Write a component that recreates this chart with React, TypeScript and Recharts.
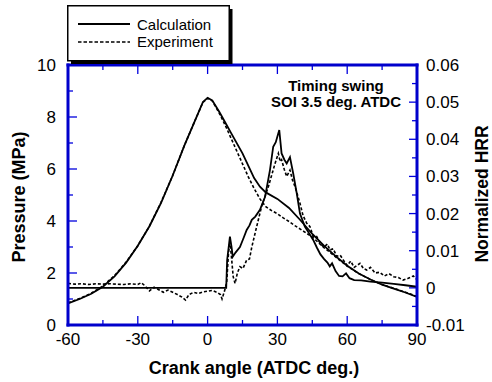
import React from 'react';
import { ComposedChart, Line, XAxis, YAxis, Legend } from 'recharts';

// ---------- data ----------
const calcPressureAngle = [-60, -55, -50, -45, -40, -35, -30, -25, -20, -15, -10, -5, -2, 0, 2, 5, 8, 10, 15, 20, 22.5, 25, 30, 35, 40, 45, 50, 55, 60, 65, 70, 75, 80, 85, 90];
const calcPressureValue = [0.83, 1.0, 1.2, 1.47, 1.87, 2.4, 3.05, 3.8, 4.7, 5.75, 6.9, 7.95, 8.58, 8.74, 8.64, 8.2, 7.72, 7.4, 6.6, 5.65, 5.32, 5.1, 4.85, 4.5, 4.02, 3.5, 3.05, 2.65, 2.28, 1.98, 1.75, 1.55, 1.4, 1.25, 1.08];

const expPressureAngle = [-60, -55, -50, -45, -40, -35, -30, -25, -20, -15, -10, -5, -2, 0, 2, 5, 8, 10, 12.5, 15, 17.5, 20, 22.5, 25, 27.5, 30, 32.5, 35, 37.5, 40, 42.5, 45, 47.5, 50, 52.5, 55, 57.5, 60, 62.5, 65, 67.5, 70, 72.5, 75, 77.5, 80, 82.5, 85, 87.5, 90];
const expPressureValue = [0.85, 1.02, 1.22, 1.5, 1.9, 2.42, 3.05, 3.8, 4.72, 5.75, 6.9, 7.95, 8.56, 8.72, 8.62, 8.15, 7.6, 7.2, 6.7, 6.2, 5.7, 5.25, 4.85, 4.55, 4.4, 4.28, 4.12, 3.98, 3.82, 3.68, 3.53, 3.38, 3.18, 2.98, 2.8, 2.62, 2.44, 2.27, 2.12, 1.98, 1.86, 1.75, 1.65, 1.56, 1.48, 1.41, 1.34, 1.26, 1.18, 1.1];

const calcHrrAngle = [-60, 8, 8.4, 9.6, 10.3, 10.8, 12, 13.9, 15.5, 16.8, 18, 19, 20.5, 22.5, 24.7, 26.8, 28.2, 29.3, 30.8, 31.8, 33, 34, 35.4, 36.8, 38.3, 39.7, 41.8, 43.5, 45.4, 47, 48.5, 50, 51.5, 52.5, 53.5, 55, 56.5, 58, 59.5, 61, 63, 66, 70, 75, 80, 85, 90];
const calcHrrValue = [0, 0, 0.0075, 0.0138, 0.011, 0.0084, 0.0095, 0.011, 0.0135, 0.0156, 0.0168, 0.0183, 0.0192, 0.021, 0.0245, 0.0317, 0.038, 0.0392, 0.0425, 0.0362, 0.0345, 0.0335, 0.0352, 0.0308, 0.0255, 0.02, 0.0165, 0.0148, 0.0129, 0.0108, 0.009, 0.0078, 0.0068, 0.0058, 0.0066, 0.0045, 0.0032, 0.0031, 0.0039, 0.0026, 0.0021, 0.002, 0.0017, 0.0014, 0.0011, 0.0007, 0.0003];

const expHrrAngle = [-60, -57, -54, -51, -48, -45, -42, -39, -36, -33, -30, -28.5, -27, -25, -23, -21, -19, -17, -15, -13, -11, -9.5, -8, -6, -4, -2, 0, 2, 4, 5.5, 6.2, 7.3, 8.2, 9, 9.6, 10.3, 11, 11.8, 12.8, 13.9, 15.2, 16.8, 18, 19, 21.1, 23.2, 26.1, 29, 30.4, 31.2, 31.8, 33, 34, 35.4, 36.5, 37.6, 39.7, 41, 42.6, 44, 45.4, 46.9, 48.5, 50, 51.5, 52.6, 54, 55.5, 57, 58.3, 60, 61.5, 63, 65.5, 67, 68.4, 70, 72, 74, 76, 78, 80, 82, 84, 86, 88.4, 90];
const expHrrValue = [0.0012, 0.001, 0.0011, 0.0009, 0.0011, 0.001, 0.0011, 0.001, 0.0009, 0.0011, 0.0009, 0.0014, 0.0006, -0.0008, 0.0002, -0.0005, -0.0012, -0.0006, -0.0012, -0.0018, -0.0025, -0.0033, -0.0018, -0.0012, -0.0015, -0.0011, -0.0009, -0.0007, -0.0012, -0.0018, -0.003, -0.0008, 0.0015, 0.0095, 0.0125, 0.008, 0.003, 0.0012, 0.004, 0.0057, 0.0052, 0.0075, 0.0078, 0.011, 0.0165, 0.0219, 0.0272, 0.0335, 0.0362, 0.034, 0.0345, 0.0318, 0.03, 0.0317, 0.029, 0.0272, 0.0228, 0.0195, 0.0174, 0.0165, 0.0138, 0.0138, 0.0118, 0.011, 0.0118, 0.0102, 0.0105, 0.0085, 0.0088, 0.0075, 0.006, 0.0072, 0.0055, 0.0066, 0.0052, 0.0048, 0.0055, 0.004, 0.0042, 0.0032, 0.0038, 0.003, 0.0028, 0.0021, 0.0025, 0.0032, 0.0022];

const angleTicks = [-60, -45, -30, -15, 0, 15, 30, 45, 60, 75, 90];
const angleLabels = [-60, -30, 0, 30, 60, 90];
const pressureTicks = [0, 1, 2, 3, 4, 5, 6, 7, 8, 9, 10];
const pressureLabels = [0, 2, 4, 6, 8, 10];
const hrrTicks = [-0.01, -0.005, 0, 0.005, 0.01, 0.015, 0.02, 0.025, 0.03, 0.035, 0.04, 0.045, 0.05, 0.055, 0.06];
const hrrLabels = [-0.01, 0, 0.01, 0.02, 0.03, 0.04, 0.05, 0.06];

const seriesNames = ['Calculation', 'Experiment'];
const axisTitles = { x: 'Crank angle (ATDC deg.)', left: 'Pressure (MPa)', right: 'Normalized HRR' };
const noteLines = ['Timing swing', 'SOI 3.5 deg. ATDC'];

const zip = (a: number[], v: number[]) => a.map((x, i) => ({ a: x, v: v[i] }));
const calcPressure = zip(calcPressureAngle, calcPressureValue);
const expPressure = zip(expPressureAngle, expPressureValue);
const calcHrr = zip(calcHrrAngle, calcHrrValue);
const expHrr = zip(expHrrAngle, expHrrValue);

// ---------- layout / style ----------
const W = 492, H = 382;
const MARGIN = { top: 60, right: 30, bottom: 27, left: 28 };
const LEFT_W = 40, RIGHT_W = 45, BOTTOM_H = 30, TOP_H = 5;
const PLOT = {
  left: MARGIN.left + LEFT_W,
  right: W - MARGIN.right - RIGHT_W,
  top: MARGIN.top + TOP_H,
  bottom: H - MARGIN.bottom - BOTTOM_H,
};
const X_DOMAIN = [angleTicks[0], angleTicks[angleTicks.length - 1]];
const P_DOMAIN = [pressureTicks[0], pressureTicks[pressureTicks.length - 1]];
const H_DOMAIN = [hrrTicks[0], hrrTicks[hrrTicks.length - 1]];

const BLUE = '#0000cc';
const TICK_BLUE = '#0000dd';
const FONT = '"Liberation Sans", Arial, Helvetica, sans-serif';
const DASH = '3 2';
const TICK_LEN = 6;
const MAJ = 9, MIN = 5;
const axisLineStyle = { stroke: BLUE, strokeWidth: 3, strokeLinecap: 'square' as const };

const lin = (d: number[], r0: number, r1: number) => (v: number) => r0 + ((v - d[0]) / (d[1] - d[0])) * (r1 - r0);
const sx = lin(X_DOMAIN, PLOT.left, PLOT.right);
const sp = lin(P_DOMAIN, PLOT.bottom, PLOT.top);
const sh = lin(H_DOMAIN, PLOT.bottom, PLOT.top);

function TickMarks() {
  const lines: React.ReactNode[] = [];
  angleTicks.forEach((t) => {
    const len = angleLabels.includes(t) ? MAJ : MIN;
    const x = sx(t);
    lines.push(<line key={`b${t}`} x1={x} y1={PLOT.bottom} x2={x} y2={PLOT.bottom - len} />);
    lines.push(<line key={`t${t}`} x1={x} y1={PLOT.top} x2={x} y2={PLOT.top + len} />);
  });
  pressureTicks.forEach((t) => {
    const len = pressureLabels.includes(t) ? MAJ : MIN;
    const y = sp(t);
    lines.push(<line key={`l${t}`} x1={PLOT.left} y1={y} x2={PLOT.left + len} y2={y} />);
  });
  hrrTicks.forEach((t) => {
    const len = hrrLabels.includes(t) ? MAJ - 1 : MIN;
    const y = sh(t);
    lines.push(<line key={`r${t}`} x1={PLOT.right} y1={y} x2={PLOT.right - len} y2={y} />);
  });
  return (
    <g className="tick-marks" stroke={TICK_BLUE} strokeWidth={1.3} fill="none">
      {lines}
    </g>
  );
}

function BottomTick(props: any) {
  const x = Number(props.x);
  const y = Number(props.y);
  const v = props.payload.value;
  if (!angleLabels.includes(v)) return <g />;
  return <text x={x} y={y + TICK_LEN + 20} textAnchor="middle" fontSize={17} fontFamily={FONT} fill="#000">{v}</text>;
}

function LeftTick(props: any) {
  const x = Number(props.x);
  const y = Number(props.y);
  const v = props.payload.value;
  if (!pressureLabels.includes(v)) return <g />;
  return <text x={x - TICK_LEN - 12} y={y + 6} textAnchor="end" fontSize={17} fontFamily={FONT} fill="#000">{v}</text>;
}

function RightTick(props: any) {
  const x = Number(props.x);
  const y = Number(props.y);
  const v = props.payload.value;
  if (!hrrLabels.includes(v)) return <g />;
  return (
    <text x={x + TICK_LEN + 9} y={y + 6} textAnchor="start" fontSize={17} fontFamily={FONT} fill="#000">
      {v === 0 ? '0' : v.toFixed(2)}
    </text>
  );
}

function LegendBox() {
  return (
    <svg width={168} height={62} style={{ display: 'block' }}>
      <rect x={4} y={4} width={161.5} height={55} fill="#000" />
      <rect x={0.75} y={0.75} width={161.5} height={55} fill="#fff" stroke="#000" strokeWidth={1.5} />
      <line x1={11} y1={19} x2={63} y2={19} stroke="#000" strokeWidth={2.2} />
      <text x={70} y={24.5} fontSize={15} fontFamily={FONT} fill="#000">{seriesNames[0]}</text>
      <line x1={11} y1={37} x2={63} y2={37} stroke="#000" strokeWidth={1.5} strokeDasharray="3.5 2" />
      <text x={70} y={42} fontSize={15} fontFamily={FONT} fill="#000">{seriesNames[1]}</text>
    </svg>
  );
}

export default function App() {
  return (
    <div style={{ position: 'absolute', left: 0, top: 0, width: W, height: H, background: '#fff' }}>
      <ComposedChart width={W} height={H} margin={MARGIN}>
        <XAxis
          dataKey="a"
          type="number"
          domain={X_DOMAIN}
          ticks={angleTicks}
          interval={0}
          allowDataOverflow
          axisLine={axisLineStyle}
          tickLine={false}
          tickSize={-TICK_LEN}
          tickMargin={0}
          height={BOTTOM_H}
          tick={(p: any) => <BottomTick {...p} />}
        />
        <XAxis
          xAxisId="top"
          orientation="top"
          dataKey="a"
          type="number"
          domain={X_DOMAIN}
          ticks={angleTicks}
          interval={0}
          allowDataOverflow
          axisLine={axisLineStyle}
          tickLine={false}
          tick={false}
          height={TOP_H}
        />
        <YAxis
          yAxisId="p"
          type="number"
          domain={P_DOMAIN}
          ticks={pressureTicks}
          interval={0}
          allowDataOverflow
          axisLine={axisLineStyle}
          tickLine={false}
          tickSize={-TICK_LEN}
          tickMargin={0}
          width={LEFT_W}
          tick={(p: any) => <LeftTick {...p} />}
        />
        <YAxis
          yAxisId="h"
          orientation="right"
          type="number"
          domain={H_DOMAIN}
          ticks={hrrTicks}
          interval={0}
          allowDataOverflow
          axisLine={axisLineStyle}
          tickLine={false}
          tickSize={-TICK_LEN}
          tickMargin={0}
          width={RIGHT_W}
          tick={(p: any) => <RightTick {...p} />}
        />
        <Legend
          layout="vertical"
          align="center"
          verticalAlign="middle"
          wrapperStyle={{ left: 67, top: 5, width: 168, height: 62 }}
          content={() => <LegendBox />}
        />
        <Line yAxisId="p" data={calcPressure} dataKey="v" name={seriesNames[0]} type="linear" stroke="#000" strokeWidth={1.8} dot={false} isAnimationActive={false} />
        <Line yAxisId="p" data={expPressure} dataKey="v" name={seriesNames[1]} type="linear" stroke="#000" strokeWidth={1.6} strokeDasharray={DASH} dot={false} isAnimationActive={false} />
        <Line yAxisId="h" data={calcHrr} dataKey="v" name={seriesNames[0] + ' HRR'} type="linear" stroke="#000" strokeWidth={1.8} dot={false} isAnimationActive={false} />
        <Line yAxisId="h" data={expHrr} dataKey="v" name={seriesNames[1] + ' HRR'} type="linear" stroke="#000" strokeWidth={1.6} strokeDasharray={DASH} dot={false} isAnimationActive={false} />
        <TickMarks />
        <text x={336} y={91} textAnchor="middle" fontSize={15} fontWeight="bold" fontFamily={FONT} fill="#000">{noteLines[0]}</text>
        <text x={336} y={107} textAnchor="middle" fontSize={15} fontWeight="bold" fontFamily={FONT} fill="#000">{noteLines[1]}</text>
        <text x={254} y={374} textAnchor="middle" fontSize={18} fontWeight="bold" fontFamily={FONT} fill="#000">{axisTitles.x}</text>
        <text transform="translate(25,197) rotate(-90)" textAnchor="middle" fontSize={18} fontWeight="bold" fontFamily={FONT} fill="#000">{axisTitles.left}</text>
        <text transform="translate(488,194) rotate(-90)" textAnchor="middle" fontSize={17.5} fontWeight="bold" fontFamily={FONT} fill="#000">{axisTitles.right}</text>
      </ComposedChart>
    </div>
  );
}
